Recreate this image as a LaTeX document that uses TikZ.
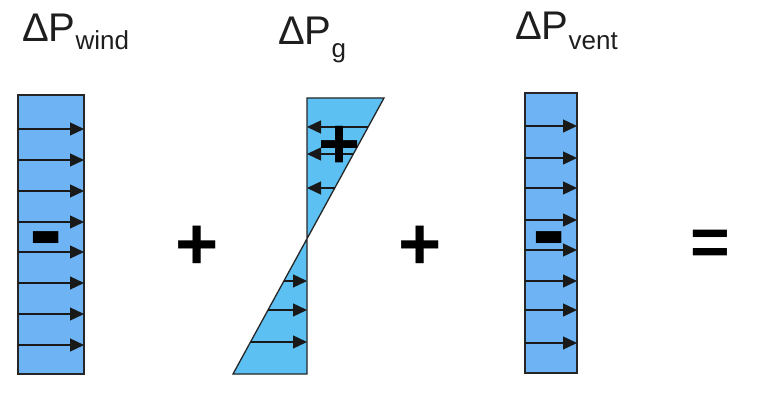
\documentclass[tikz,border=0pt]{standalone}
\usepackage{fontspec}
\setmainfont{Liberation Sans}
\usetikzlibrary{arrows.meta}
\definecolor{boxblue}{RGB}{110,180,245}
\definecolor{gblue}{RGB}{92,192,242}
\definecolor{txt}{RGB}{30,30,30}
\tikzset{
  pbox/.style={draw=black!85, line width=1.3pt, fill=boxblue},
  gbox/.style={draw=black!85, line width=1.3pt, fill=gblue, line join=miter},
  parr/.style={draw=black!90, line width=1.3pt, -{Triangle[length=14pt,width=13pt]}},
  lbl/.style={anchor=base west, inner sep=0pt, text=txt},
  sym/.style={anchor=base, inner sep=0pt, font=\bfseries, text=black}
}
\newcommand{\lblbig}[1]{{\fontsize{40}{40}\selectfont #1}}
\newcommand{\lblsub}[1]{{\fontsize{26}{26}\selectfont #1}}
\begin{document}
\begin{tikzpicture}[x=1pt,y=-1pt]
\useasboundingbox (0,0) rectangle (759,395);
% labels
\node[lbl] (lw) at (22,42) {\lblbig{ΔP}\raisebox{-8pt}{\lblsub{wind}}};
\node[lbl] (lg) at (278,45) {\lblbig{ΔP}\raisebox{-13pt}{\lblsub{g}}};
\node[lbl] (lv) at (515,40) {\lblbig{ΔP}\raisebox{-10pt}{\lblsub{vent}}};
% wind box
\path[pbox] (18,95) rectangle (84,374);
\foreach \y in {129,160,191,222,252,283,314,345}
  \draw[parr] (18,\y) -- (84,\y);
\node[sym, font=\bfseries\fontsize{100}{100}\selectfont] (mw) at (46.5,263) {-};
% gravity shape
\path[gbox] (307,98) -- (384,98) -- (233,374) -- (307,374) -- cycle;
\draw[parr] (368.1,127) -- (307,127);
\draw[parr] (353.4,154) -- (307,154);
\draw[parr] (334.8,188) -- (307,188);
\draw[parr] (283.9,281) -- (307,281);
\draw[parr] (268,310) -- (307,310);
\draw[parr] (250.5,342) -- (307,342);
\node[sym, font=\bfseries\fontsize{72}{72}\selectfont] (pg) at (340,168.5) {+};
% vent box
\path[pbox] (525,93) rectangle (577,373);
\foreach \y in {126,158,188,220,250,281,310,343}
  \draw[parr] (525,\y) -- (577,\y);
\node[sym, font=\bfseries\fontsize{100}{100}\selectfont] (mv) at (549.5,263.5) {-};
% operators
\node[sym, font=\bfseries\fontsize{74}{74}\selectfont] (p1) at (197.5,269.5) {+};
\node[sym, font=\bfseries\fontsize{74}{74}\selectfont] (p2) at (420.5,269.5) {+};
\node[sym, font=\bfseries\fontsize{68}{68}\selectfont] (eq) at (710,265.5) {=};
\end{tikzpicture}
\end{document}
